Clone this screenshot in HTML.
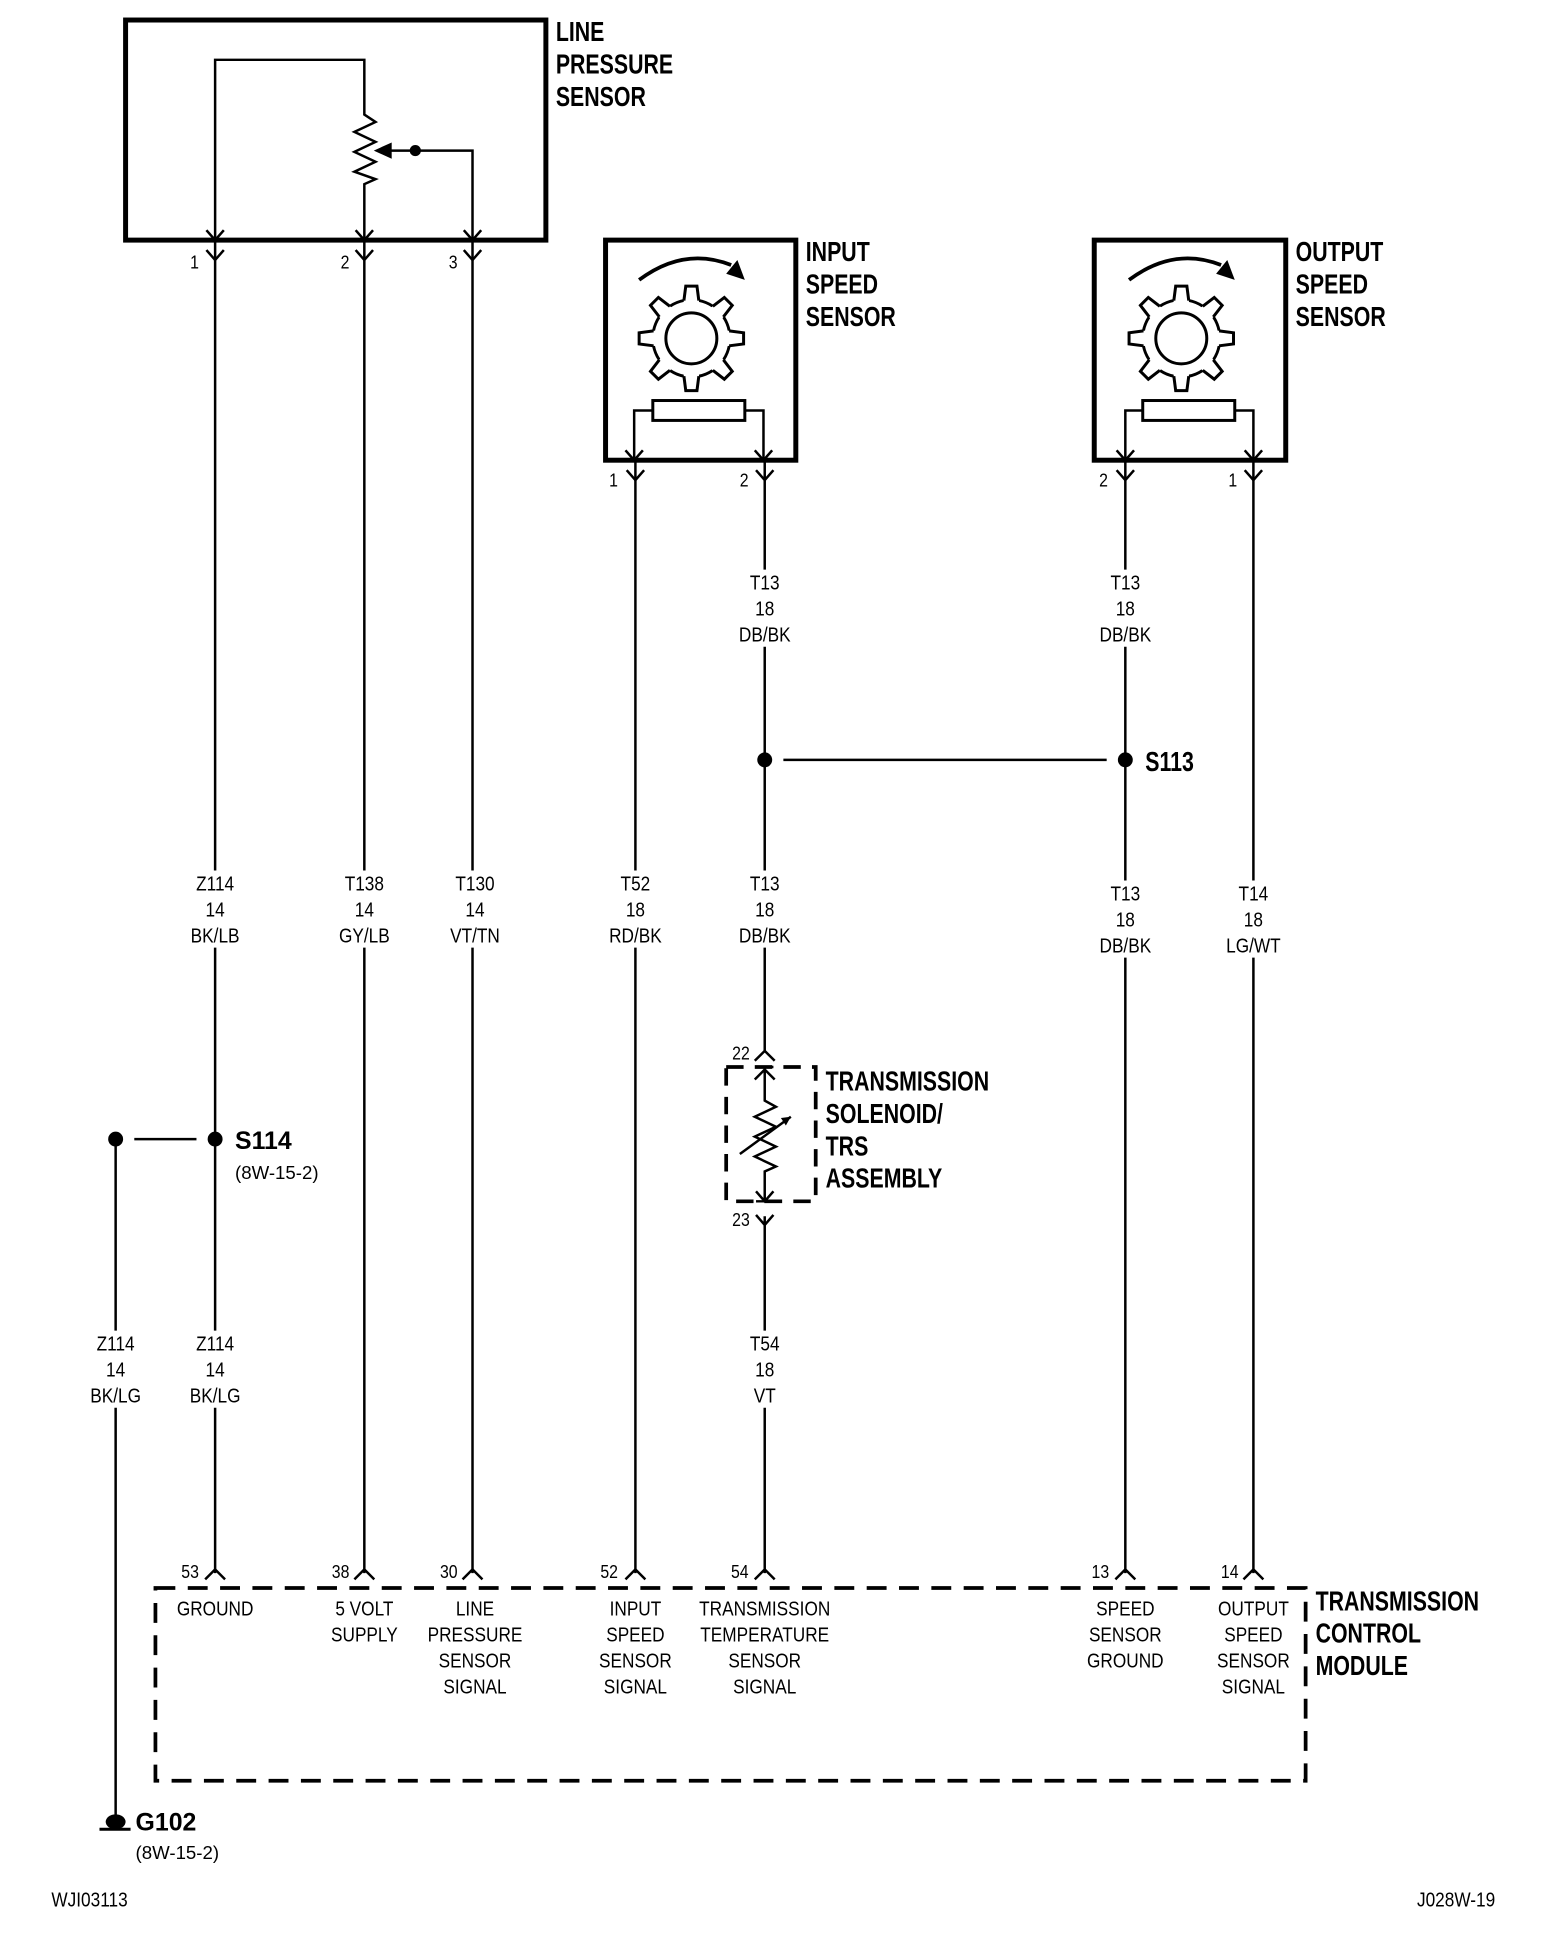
<!DOCTYPE html>
<html><head><meta charset="utf-8"><style>
html,body{margin:0;padding:0;background:#fff;}
svg{display:block;}
text{transform-box:fill-box;}
.t{font-family:"Liberation Sans",sans-serif;font-size:16.5px;fill:#000;text-anchor:middle;transform:scaleX(.84);transform-origin:center;}
.b{font-family:"Liberation Sans",sans-serif;font-size:22px;font-weight:bold;fill:#000;transform:scaleX(.78);transform-origin:left;}
.p{font-family:"Liberation Sans",sans-serif;font-size:15px;fill:#000;text-anchor:end;transform:scaleX(.85);transform-origin:right;}
.s{font-family:"Liberation Sans",sans-serif;font-size:15px;fill:#000;}
.w{font-family:"Liberation Sans",sans-serif;font-size:20px;font-weight:bold;fill:#000;}
</style></head><body>
<svg width="1568" height="1950" viewBox="0 0 1261 1568" xmlns="http://www.w3.org/2000/svg">
<defs>
<g id="tooth">
<path d="M-6.5,-27 L-4.5,-42 L4.5,-42 L6.5,-27Z" fill="#fff"/>
<path d="M-6,-30.4 L-4.5,-42 L4.5,-42 L6,-30.4" fill="none" stroke="#000" stroke-width="2.4"/>
</g>
<g id="gear">
<circle r="31" fill="none" stroke="#000" stroke-width="2.4"/>
<use href="#tooth"/><use href="#tooth" transform="rotate(45)"/><use href="#tooth" transform="rotate(90)"/><use href="#tooth" transform="rotate(135)"/>
<use href="#tooth" transform="rotate(180)"/><use href="#tooth" transform="rotate(225)"/><use href="#tooth" transform="rotate(270)"/><use href="#tooth" transform="rotate(315)"/>
<circle r="20.5" fill="none" stroke="#000" stroke-width="2.4"/>
</g>
<path id="dn" d="M-7,-8 L0,0 L7,-8" fill="none" stroke="#000" stroke-width="2"/>
<path id="up" d="M-8,8 L0,0 L8,8" fill="none" stroke="#000" stroke-width="2"/>
</defs>
<g stroke="#000" fill="none" stroke-width="2">
<rect x="101" y="16" width="338" height="177" stroke-width="4"/>
<path d="M173,193 V48 H293 V92 L302,98 L285,106 L302,114 L285,122 L302,130 L285,138 L302,144 L293,148 V193"/>
<path d="M334,121 H380 V193"/>
<path d="M303,121 L314,116 L314,126Z" fill="#000"/>
<line x1="314" y1="121" x2="334" y2="121"/>
<path d="M173,193 V700 M173,762 V1070 M173,1132 V1265"/>
<path d="M293,193 V700 M293,762 V1265"/>
<path d="M380,193 V700 M380,762 V1265"/>
<path d="M511,370 V700 M511,762 V1265"/>
<path d="M615,370 V458 M615,520 V700 M615,762 V845 M615,978 V1070 M615,1132 V1265"/>
<path d="M905,370 V458 M905,520 V708 M905,770 V1265"/>
<path d="M1008,370 V708 M1008,770 V1265"/>
<path d="M93,916 V1070 M93,1132 V1462"/>
<path d="M630,611 H890"/>
<path d="M108,916 H158"/>
<rect x="487" y="193" width="153" height="177" stroke-width="4"/>
<rect x="880" y="193" width="154" height="177" stroke-width="4"/>
<rect x="525" y="322" width="74" height="16" stroke-width="2.4"/>
<rect x="919" y="322" width="74" height="16" stroke-width="2.4"/>
<path d="M525,330 H510 V370 M599,330 H614 V370"/>
<path d="M919,330 H905 V370 M993,330 H1008 V370"/>
<path d="M514,225 Q550,198 588,213" stroke-width="3"/>
<path d="M908,225 Q944,198 982,213" stroke-width="3"/>
<rect x="584" y="858" width="72" height="108" stroke-width="3" stroke-dasharray="14,9"/>
<path d="M615,858 V885 L624,890 L607,898 L624,906 L607,914 L624,922 L607,930 L624,938 L615,942 V966"/>
<path d="M595,928 L636,898"/>
<path d="M608,858 H622 M608,966 H622"/>
<path d="M125,1277 H1050 V1432 H125 Z" stroke-width="3" stroke-dasharray="16,10"/>
<path d="M80,1471 H105" stroke-width="2.5"/>
</g>
<g fill="#000">
<path d="M599,225 L584,220 L593,209Z"/>
<path d="M993,225 L978,220 L987,209Z"/>
<path d="M636,898 L628,899 L632,905Z"/>
<circle cx="334" cy="121" r="4.5"/>
<circle cx="615" cy="611" r="6"/><circle cx="905" cy="611" r="6"/>
<circle cx="93" cy="916" r="6"/><circle cx="173" cy="916" r="6"/>
<ellipse cx="93" cy="1465" rx="8" ry="6"/>
</g>
<use href="#gear" x="556" y="272"/>
<use href="#gear" x="950" y="272"/>
<use href="#dn" x="173" y="193"/><use href="#dn" x="293" y="193"/><use href="#dn" x="380" y="193"/>
<use href="#dn" x="173" y="209"/><use href="#dn" x="293" y="209"/><use href="#dn" x="380" y="209"/>
<use href="#dn" x="510" y="370"/><use href="#dn" x="614" y="370"/><use href="#dn" x="905" y="370"/><use href="#dn" x="1008" y="370"/>
<use href="#dn" x="511" y="386"/><use href="#dn" x="615" y="386"/><use href="#dn" x="905" y="386"/><use href="#dn" x="1008" y="386"/>
<use href="#up" x="615" y="845"/><use href="#up" x="615" y="860"/>
<use href="#dn" x="615" y="966"/><use href="#dn" x="615" y="985"/>
<use href="#up" x="173" y="1262"/><use href="#up" x="293" y="1262"/><use href="#up" x="380" y="1262"/><use href="#up" x="511" y="1262"/><use href="#up" x="615" y="1262"/><use href="#up" x="905" y="1262"/><use href="#up" x="1008" y="1262"/>
<text class="p" x="160" y="216">1</text><text class="p" x="281" y="216">2</text><text class="p" x="368" y="216">3</text>
<text class="p" x="497" y="391">1</text><text class="p" x="602" y="391">2</text><text class="p" x="891" y="391">2</text><text class="p" x="995" y="391">1</text>
<text class="p" x="603" y="852">22</text><text class="p" x="603" y="986">23</text>
<text class="p" x="160" y="1269">53</text><text class="p" x="281" y="1269">38</text><text class="p" x="368" y="1269">30</text><text class="p" x="497" y="1269">52</text><text class="p" x="602" y="1269">54</text><text class="p" x="892" y="1269">13</text><text class="p" x="996" y="1269">14</text>
<text class="b" x="447" y="33">LINE</text><text class="b" x="447" y="59">PRESSURE</text><text class="b" x="447" y="85">SENSOR</text>
<text class="b" x="648" y="210">INPUT</text><text class="b" x="648" y="236">SPEED</text><text class="b" x="648" y="262">SENSOR</text>
<text class="b" x="1042" y="210">OUTPUT</text><text class="b" x="1042" y="236">SPEED</text><text class="b" x="1042" y="262">SENSOR</text>
<text class="b" x="921" y="620">S113</text>
<text class="b" x="664" y="877">TRANSMISSION</text><text class="b" x="664" y="903">SOLENOID/</text><text class="b" x="664" y="929">TRS</text><text class="b" x="664" y="955">ASSEMBLY</text>
<text class="w" x="189" y="924">S114</text>
<text class="s" x="189" y="948">(8W-15-2)</text>
<text class="w" x="109" y="1472">G102</text>
<text class="s" x="109" y="1495">(8W-15-2)</text>
<text class="b" x="1058" y="1295">TRANSMISSION</text><text class="b" x="1058" y="1321">CONTROL</text><text class="b" x="1058" y="1347">MODULE</text>
<g>
<text class="t" x="173" y="716">Z114</text><text class="t" x="173" y="737">14</text><text class="t" x="173" y="758">BK/LB</text>
<text class="t" x="293" y="716">T138</text><text class="t" x="293" y="737">14</text><text class="t" x="293" y="758">GY/LB</text>
<text class="t" x="382" y="716">T130</text><text class="t" x="382" y="737">14</text><text class="t" x="382" y="758">VT/TN</text>
<text class="t" x="511" y="716">T52</text><text class="t" x="511" y="737">18</text><text class="t" x="511" y="758">RD/BK</text>
<text class="t" x="615" y="716">T13</text><text class="t" x="615" y="737">18</text><text class="t" x="615" y="758">DB/BK</text>
<text class="t" x="615" y="474">T13</text><text class="t" x="615" y="495">18</text><text class="t" x="615" y="516">DB/BK</text>
<text class="t" x="905" y="474">T13</text><text class="t" x="905" y="495">18</text><text class="t" x="905" y="516">DB/BK</text>
<text class="t" x="905" y="724">T13</text><text class="t" x="905" y="745">18</text><text class="t" x="905" y="766">DB/BK</text>
<text class="t" x="1008" y="724">T14</text><text class="t" x="1008" y="745">18</text><text class="t" x="1008" y="766">LG/WT</text>
<text class="t" x="615" y="1086">T54</text><text class="t" x="615" y="1107">18</text><text class="t" x="615" y="1128">VT</text>
<text class="t" x="93" y="1086">Z114</text><text class="t" x="93" y="1107">14</text><text class="t" x="93" y="1128">BK/LG</text>
<text class="t" x="173" y="1086">Z114</text><text class="t" x="173" y="1107">14</text><text class="t" x="173" y="1128">BK/LG</text>
<text class="t" x="173" y="1299">GROUND</text>
<text class="t" x="293" y="1299">5 VOLT</text><text class="t" x="293" y="1320">SUPPLY</text>
<text class="t" x="382" y="1299">LINE</text><text class="t" x="382" y="1320">PRESSURE</text><text class="t" x="382" y="1341">SENSOR</text><text class="t" x="382" y="1362">SIGNAL</text>
<text class="t" x="511" y="1299">INPUT</text><text class="t" x="511" y="1320">SPEED</text><text class="t" x="511" y="1341">SENSOR</text><text class="t" x="511" y="1362">SIGNAL</text>
<text class="t" x="615" y="1299">TRANSMISSION</text><text class="t" x="615" y="1320">TEMPERATURE</text><text class="t" x="615" y="1341">SENSOR</text><text class="t" x="615" y="1362">SIGNAL</text>
<text class="t" x="905" y="1299">SPEED</text><text class="t" x="905" y="1320">SENSOR</text><text class="t" x="905" y="1341">GROUND</text>
<text class="t" x="1008" y="1299">OUTPUT</text><text class="t" x="1008" y="1320">SPEED</text><text class="t" x="1008" y="1341">SENSOR</text><text class="t" x="1008" y="1362">SIGNAL</text>
<text class="t" x="72" y="1533">WJI03113</text>
<text class="t" x="1171" y="1533">J028W-19</text>
</g>
</svg>
</body></html>
